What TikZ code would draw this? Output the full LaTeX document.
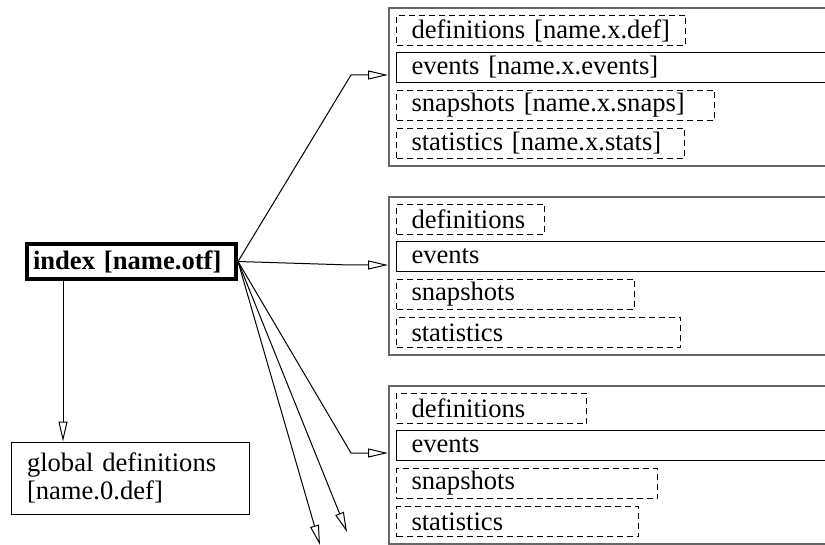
\documentclass[tikz,border=0pt]{standalone}
\usepackage{fontspec}
\setmainfont{Liberation Serif}
\usetikzlibrary{arrows.meta}

\begin{document}
\begin{tikzpicture}[x=0.5pt,y=-0.5pt,
        font=\fontsize{13.3}{14}\selectfont,
        arr/.style={-{Triangle[open,length=10pt,width=4.5pt]},line width=0.5pt},
        frame/.style={draw=black!60,line width=1pt,anchor=north west,minimum width=230pt,minimum height=79pt},
        part/.style={draw,dash pattern=on 3pt off 2pt,line width=0.5pt,anchor=north west,
            minimum height=15pt,inner xsep=7.5pt,inner ysep=0pt,align=left},
        stream/.style={part,solid,text width=205pt}]
        \useasboundingbox (0,0) rectangle (825,545);
        \clip (0,0) rectangle (825,545);
        % Index and global definitions
        \node[draw,line width=2pt,minimum height=16.5pt,inner xsep=3pt,text width=98.5pt,align=left,font=\fontsize{13.3}{14}\selectfont\bfseries] (index) at (131.5,261.5) {index [name.otf]};
        \node[draw,line width=0.5pt,minimum height=36pt,inner xsep=8pt,text width=103pt,align=left] (glob) at (130,478) {global definitions\\{}[name.0.def]};
        % First file group
        \node[frame] (f1) at (388,7) {};
        \node[part,text width=129.5pt] (def1) at (396,15) {definitions [name.x.def]};
        \node[stream] (ev1) at (396,52) {events [name.x.events]};
        \node[part,text width=144pt] (snap1) at (396,90) {snapshots [name.x.snaps]};
        \node[part,text width=129pt] (stat1) at (396,128) {statistics [name.x.stats]};
        % Second file group
        \node[frame] (f2) at (388,196) {};
        \node[part,text width=59pt] (def2) at (396,204) {definitions};
        \node[stream] (ev2) at (396,241) {events};
        \node[part,text width=104pt] (snap2) at (396,279) {snapshots};
        \node[part,text width=127pt] (stat2) at (396,317) {statistics};
        % Third file group
        \node[frame] (f3) at (388,385) {};
        \node[part,text width=80pt] (def3) at (396,393) {definitions};
        \node[stream] (ev3) at (396,430) {events};
        \node[part,text width=115.5pt] (snap3) at (396,468) {snapshots};
        \node[part,text width=106pt] (stat3) at (396,506) {statistics};
        % Arrow ends
        \coordinate (col) at (63,0);
        \coordinate (in1) at (388,75);
        \coordinate (in2) at (388,265);
        \coordinate (in3) at (388,453);
        \coordinate (out1) at (320,545);
        \coordinate (out2) at (347,532);
        % Connectors
        \draw[arr] (index.south -| col) -- (glob.north -| col);
        \draw[arr] (index.east) -- (351,75) -- (in1);
        \draw[arr] (index.east) -- (350,265) -- (in2);
        \draw[arr] (index.east) -- (351,453) -- (in3);
        \draw[arr] (index.east) -- (out1);
        \draw[arr] (index.east) -- (out2);
    \end{tikzpicture}
\end{document}
